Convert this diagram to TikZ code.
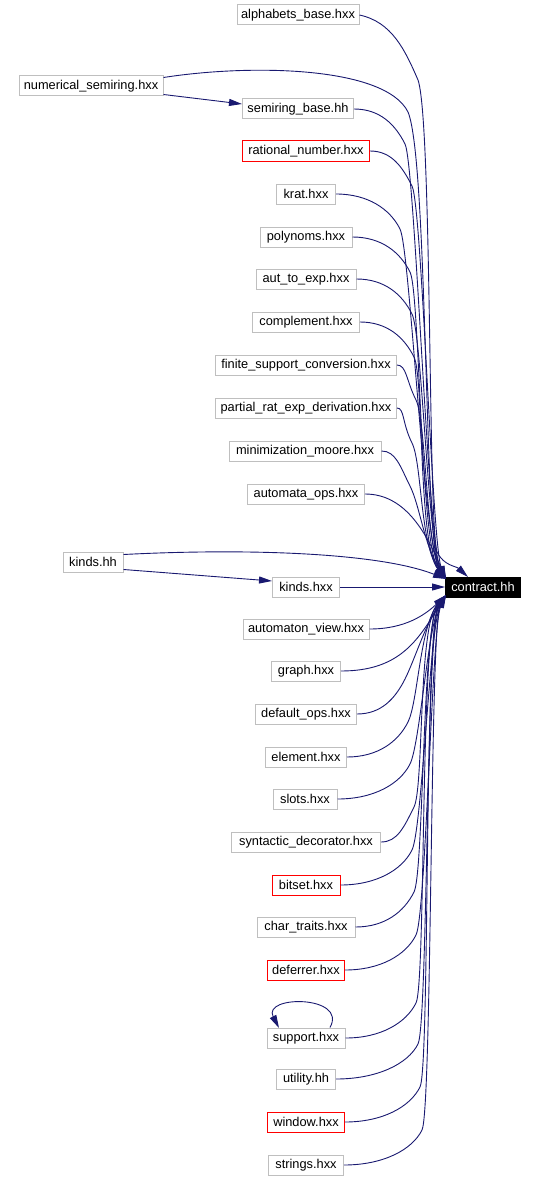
\documentclass[tikz,border=0pt]{standalone}
\usepackage{fontspec}
\setmainfont{Liberation Sans}
\usetikzlibrary{arrows.meta,calc}
\definecolor{edgec}{HTML}{191970}
\definecolor{boxg}{HTML}{BFBFBF}
\definecolor{boxr}{HTML}{FF0000}
\begin{document}
\begin{tikzpicture}[x=1pt,y=-1pt,
  file/.style={draw=boxg, line width=1pt, fill=white, inner sep=0pt,
    minimum height=20pt, font=\fontsize{12.8}{14}\selectfont, text=black},
  redfile/.style={file, draw=boxr},
  mainfile/.style={file, fill=black, draw=black, text=white},
  dep/.style={draw=edgec, line width=0.9pt, -{Triangle[length=13pt,width=7pt]}}]
\useasboundingbox (0,0) rectangle (537,1180);

% nodes
\node[file, minimum width=122pt] (alpha) at (298,15) {alphabets\_base.hxx};
\node[file, minimum width=144pt] (numsem) at (91,86) {numerical\_semiring.hxx};
\node[file, minimum width=111pt] (semi) at (298,109) {semiring\_base.hh};
\node[redfile, minimum width=127pt] (rat) at (306,151) {rational\_number.hxx};
\node[file, minimum width=59pt] (krat) at (306,194) {krat.hxx};
\node[file, minimum width=92pt] (poly) at (306,237) {polynoms.hxx};
\node[file, minimum width=100pt] (atoe) at (306,279) {aut\_to\_exp.hxx};
\node[file, minimum width=107pt] (compl) at (306,322) {complement.hxx};
\node[file, minimum width=181pt] (fsc) at (306,365) {finite\_support\_conversion.hxx};
\node[file, minimum width=181pt] (prd) at (306,408) {partial\_rat\_exp\_derivation.hxx};
\node[file, minimum width=152pt] (mm) at (305,451) {minimization\_moore.hxx};
\node[file, minimum width=117pt] (aops) at (306,494) {automata\_ops.hxx};
\node[file, minimum width=60pt] (kindshh) at (93,562) {kinds.hh};
\node[file, minimum width=67pt] (kindshxx) at (306,587) {kinds.hxx};
\node[mainfile, minimum width=75pt] (contract) at (483,587) {contract.hh};
\node[file, minimum width=126pt] (aview) at (306,629) {automaton\_view.hxx};
\node[file, minimum width=69pt] (graph) at (306,671) {graph.hxx};
\node[file, minimum width=101pt] (dops) at (306,714) {default\_ops.hxx};
\node[file, minimum width=81pt] (elem) at (306,757) {element.hxx};
\node[file, minimum width=64pt] (slots) at (305,799) {slots.hxx};
\node[file, minimum width=149pt] (synd) at (306,842) {syntactic\_decorator.hxx};
\node[redfile, minimum width=68pt] (bitset) at (306,885) {bitset.hxx};
\node[file, minimum width=98pt] (ctraits) at (306,927) {char\_traits.hxx};
\node[redfile, minimum width=77pt] (defer) at (306,970) {deferrer.hxx};
\node[file, minimum width=78pt] (support) at (306,1038) {support.hxx};
\node[file, minimum width=59pt] (util) at (306,1079) {utility.hh};
\node[redfile, minimum width=77pt] (window) at (306,1122) {window.hxx};
\node[file, minimum width=75pt] (strings) at (306,1165) {strings.hxx};

% special edges
\draw[dep] (alpha.east) .. controls (392,22) and (405,50) .. (418,80)
  .. controls (432,120) and (428,520) .. (437,552)
  .. controls (444,566) and (456,566) .. (468,577);
\draw[dep] (numsem.north east) ++(0,2) .. controls (250,64) and (385,66) .. (408,112)
  .. controls (428,160) and (424,545) .. (446,579);
\draw[dep] (numsem.south east) ++(0,-2) -- (semi.west |- 0,104);
\draw[dep] (kindshh.north east) ++(0,3) .. controls (250,548) and (380,553) .. (446,579);
\draw[dep] (kindshh.south east) ++(0,-3) -- (kindshxx.west |- 0,581);
\draw[dep] (kindshxx.east) -- (contract.west);
\draw[dep] (support.north) ++(24,0) .. controls (348,995) and (262,995) .. (279,1028);

% top edges
\foreach \n/\b/\cx in {semi/405/428, rat/412/432, krat/400/424, poly/410/420,
    atoe/412/428, compl/414/418, fsc/416/426, prd/412/420, mm/410/424} {
  \draw[dep] (\n.east) .. controls ($(\n.east)!0.5!(\b,0 |- \n.east)$) and +(-10,-20)
    .. ($(\b,0 |- \n.east)+(0,35)$) .. controls +(10,20) and (\cx,545) .. (446,579);
}
\draw[dep] (aops.east) .. controls (404,494) and (425,530) .. (446,579);

% bottom edges
\draw[dep] (aview.east) .. controls (405,629) and (425,615) .. (446,595);
\draw[dep] (graph.east) .. controls (400,671) and (418,640) .. (446,595);
\foreach \n/\b/\cx in {dops/405/425, elem/408/420, slots/410/428, synd/414/418,
    bitset/412/430, ctraits/414/422, defer/416/432, support/416/420,
    util/418/426, window/420/424, strings/422/430} {
  \draw[dep] (\n.east) .. controls ($(\n.east)!0.5!(\b,0 |- \n.east)$) and +(-10,20)
    .. ($(\b,0 |- \n.east)+(0,-35)$) .. controls +(10,-20) and (\cx,625) .. (446,595);
}
\end{tikzpicture}
\end{document}
